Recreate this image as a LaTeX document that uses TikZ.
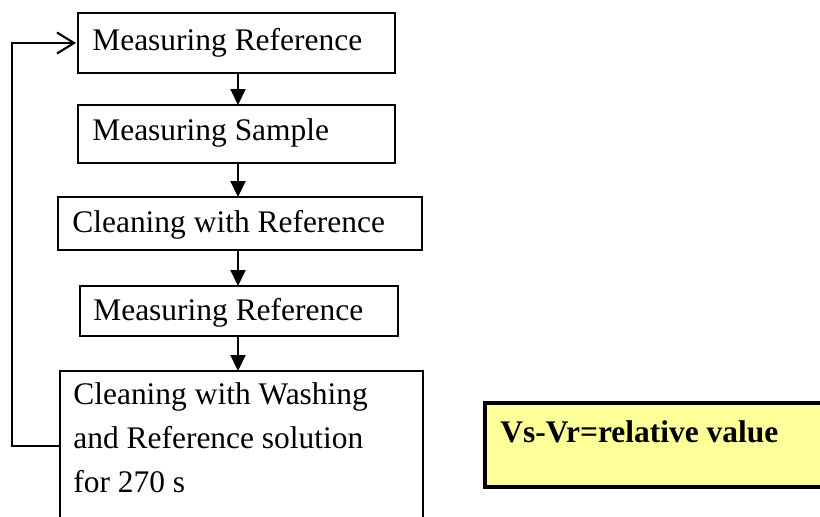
\documentclass[tikz,border=0pt]{standalone}
\usepackage{fontspec}
\setmainfont{Liberation Serif}
\usepackage{tikz}
\usetikzlibrary{shapes,arrows,arrows.meta}
\definecolor{notebg}{HTML}{FFFF99}

\begin{document}
\begin{tikzpicture}
		\tikzstyle {step box} = [draw, line width=1.1pt]
		\tikzstyle {step text} = [anchor=base west, inner sep=0, font=\fontsize{17.9}{25}\selectfont]
		\tikzstyle {flow line} = [line width=1.2pt]
		\tikzstyle {down arrow} = [flow line, -{Triangle[length=0.32cm, width=0.3cm]}]

		\useasboundingbox (0,0) rectangle (16.4,10.32);

		% steps of one cycle
		\draw[step box] (1.56, 10.06) rectangle (7.90, 8.86);
		\coordinate (ref1 top) at (4.76, 10.06);
		\coordinate (ref1 bot) at (4.76, 8.86);
		\node[step text] (ref1) at (1.84, 9.32) {Measuring Reference};

		\draw[step box] (1.56, 8.22) rectangle (7.90, 7.06);
		\coordinate (smp top) at (4.76, 8.22);
		\coordinate (smp bot) at (4.76, 7.06);
		\node[step text] (smp) at (1.84, 7.52) {Measuring Sample};

		\draw[step box] (1.16, 6.38) rectangle (8.44, 5.32);
		\coordinate (cln top) at (4.76, 6.38);
		\coordinate (cln bot) at (4.76, 5.32);
		\node[step text] (cln) at (1.44, 5.68) {Cleaning with Reference};

		\draw[step box] (1.60, 4.60) rectangle (7.96, 3.60);
		\coordinate (ref2 top) at (4.76, 4.60);
		\coordinate (ref2 bot) at (4.76, 3.60);
		\node[step text] (ref2) at (1.86, 3.92) {Measuring Reference};

		\draw[step box] (1.20, 2.90) rectangle (8.46, -0.40);
		\coordinate (wash top) at (4.76, 2.90);
		\coordinate (wash left) at (1.20, 1.40);
		\node[step text, align=left] (wash) at (1.46, 0.48) {Cleaning with Washing\\and Reference solution\\for 270 s};

		% arrows between steps
		\draw[down arrow] (ref1 bot) -- (smp top);
		\draw[down arrow] (smp bot) -- (cln top);
		\draw[down arrow] (cln bot) -- (ref2 top);
		\draw[down arrow] (ref2 bot) -- (wash top);

		% back to the start
		\coordinate (loop in) at (1.52, 9.46);
		\draw[flow line, -{Straight Barb[length=0.34cm, width=0.42cm]}] (wash left) -- (0.24, 1.40) -- (0.24, 9.46) -- (loop in);

		% result
		\draw[line width=1.9pt, fill=notebg] (9.70, 2.26) rectangle (16.70, 0.58);
		\node[step text, font=\fontsize{17.9}{25}\selectfont\bfseries] (result) at (10.00, 1.48) {Vs-Vr=relative value};
	\end{tikzpicture}
\end{document}
